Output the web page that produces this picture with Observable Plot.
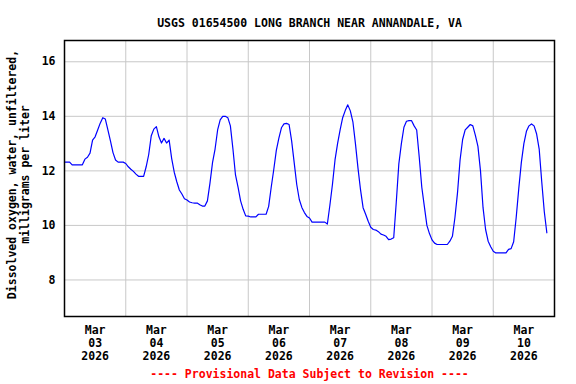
<!DOCTYPE html>
<html><head><meta charset="utf-8">
<script src="https://cdn.jsdelivr.net/npm/d3@7"></script>
<script src="https://cdn.jsdelivr.net/npm/@observablehq/plot@0.6"></script>
<style>body{margin:0;background:#fff}</style>
</head><body><div id="chart"></div>
<script>
const title = "USGS 01654500 LONG BRANCH NEAR ANNANDALE, VA";
const yLabelLines = ["Dissolved oxygen, water, unfiltered,", "milligrams per liter"];
const footer = "---- Provisional Data Subject to Revision ----";
const seriesStart = [2026, 2, 3, 0]; // UTC year, month index, day, hour
const stepHours = 1;
// hourly dissolved oxygen readings (mg/L), Mar 3 00:00 onward
const doValues = [
  12.32,12.32,12.32,12.22,12.22,12.22,12.22,12.22,12.43,12.5,12.65,13.13,13.25,13.5,13.75,13.95,13.9,13.5,13.1,12.67,12.4,12.32,12.32,12.32,
  12.27,12.15,12.06,11.98,11.88,11.8,11.8,11.8,12.15,12.6,13.29,13.53,13.62,13.25,13.02,13.19,13.02,13.13,12.45,11.95,11.6,11.3,11.15,10.98,
  10.93,10.86,10.83,10.82,10.82,10.76,10.71,10.71,10.9,11.55,12.3,12.8,13.5,13.87,14.0,14.0,13.95,13.65,12.8,11.85,11.4,10.9,10.59,10.35,
  10.34,10.31,10.31,10.31,10.41,10.41,10.41,10.41,10.7,11.4,12.05,12.75,13.2,13.58,13.72,13.74,13.7,13.1,12.3,11.5,10.95,10.66,10.47,10.33,
  10.27,10.12,10.12,10.12,10.12,10.12,10.12,10.05,10.75,11.51,12.4,13.0,13.5,13.95,14.21,14.42,14.2,13.8,13.0,12.1,11.3,10.65,10.41,10.15,
  9.93,9.85,9.83,9.77,9.68,9.65,9.6,9.48,9.5,9.55,10.85,12.25,13.0,13.6,13.82,13.84,13.84,13.65,13.5,12.5,11.4,10.7,10.0,9.7,
  9.47,9.35,9.3,9.3,9.3,9.3,9.3,9.42,9.6,10.3,11.2,12.4,13.15,13.5,13.6,13.7,13.65,13.3,12.9,12.0,10.65,9.85,9.42,9.22,
  9.05,8.99,8.99,8.99,8.99,8.99,9.12,9.15,9.4,10.3,11.35,12.3,13.0,13.45,13.65,13.72,13.65,13.35,12.8,11.6,10.5,9.73
];
const yTicks = [8, 10, 12, 14, 16];
const yDomain = [6.66, 16.78];
const monthLabel = "Mar";
const yearLabel = "2026";
const dayLabels = ["03","04","05","06","07","08","09","10"];
const dayNumbers = [3,4,5,6,7,8,9,10];
const gridDays = [4,5,6,7,8,9,10];
const xDomainDays = [3, 11];

const t0 = Date.UTC(...seriesStart);
const data = doValues.map((v, i) => ({t: new Date(t0 + i * stepHours * 3600e3), v}));
const gridDates = gridDays.map(d => new Date(Date.UTC(2026, 2, d)));
const xLabels = dayNumbers.map((d, i) => ({t: new Date(Date.UTC(2026, 2, d, 12)), label: `${monthLabel}\n${dayLabels[i]}\n${yearLabel}`}));

const font = "'DejaVu Sans Mono', 'Liberation Mono', monospace";
const chart = Plot.plot({
  width: 576, height: 384,
  marginLeft: 64, marginRight: 22, marginTop: 40, marginBottom: 68,
  style: {fontFamily: font, fontSize: "11.5px", fontWeight: "bold", color: "#000", background: "#fff", overflow: "visible"},
  x: {type: "utc", domain: xDomainDays.map(d => new Date(Date.UTC(2026, 2, d))), axis: null},
  y: {domain: yDomain, axis: null},
  marks: [
    Plot.gridX(gridDates, {stroke: "#c8c8c8", strokeOpacity: 1, strokeWidth: 1}),
    Plot.gridY(yTicks, {stroke: "#c8c8c8", strokeOpacity: 1, strokeWidth: 1}),
    Plot.line(data, {x: "t", y: "v", stroke: "#0000ff", strokeWidth: 1.2}),
    Plot.frame({stroke: "#000", strokeWidth: 1.5}),
    Plot.axisY(yTicks, {tickSize: 0, tickPadding: 9, label: null, fill: "#000"}),
    Plot.text(xLabels, {x: "t", text: "label", frameAnchor: "bottom", lineAnchor: "top", dy: 8, lineHeight: 1.13, fill: "#000"}),
    Plot.text([yLabelLines.join("\n")], {frameAnchor: "left", textAnchor: "middle", rotate: -90, dx: -46, dy: -4, lineAnchor: "middle", lineHeight: 1.15, fill: "#000"}),
    Plot.text([title], {frameAnchor: "top", dy: -22, fill: "#000"}),
    Plot.text([footer], {frameAnchor: "bottom", dy: 61, fill: "#ff0000"})
  ]
});
document.getElementById("chart").appendChild(chart);
</script>
</body></html>
